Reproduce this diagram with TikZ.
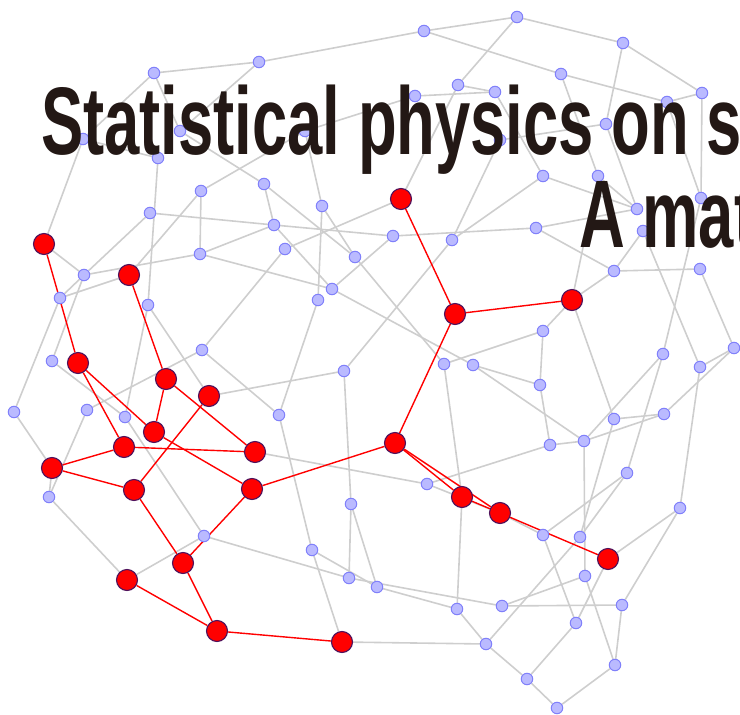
\documentclass[tikz,border=0pt]{standalone}
\usepackage{fontspec}
\usepackage{graphicx}
\newfontfamily\titlefont{Liberation Sans}
\usetikzlibrary{backgrounds}
\definecolor{edgegray}{RGB}{206,206,206}
\definecolor{vtxfill}{RGB}{186,186,255}
\definecolor{vtxline}{RGB}{128,128,250}
\definecolor{hubline}{RGB}{78,18,92}
\definecolor{titleink}{RGB}{35,24,21}
\begin{document}
\begin{tikzpicture}[x=1pt,y=-1pt,
  vtx/.style={circle,draw=vtxline,fill=vtxfill,line width=1pt,minimum size=11.5pt,inner sep=0pt},
  hub/.style={circle,draw=hubline,fill=red,line width=1.1pt,minimum size=21pt,inner sep=0pt},
  link/.style={draw=edgegray,line width=1.6pt},
  redlink/.style={draw=red,line width=1.4pt},
  headline/.style={inner sep=0pt,anchor=base west,text=titleink,
    font=\titlefont\bfseries\fontsize{96pt}{96pt}\selectfont}]
  \useasboundingbox (0,0) rectangle (740,715);
  % small vertices
  \foreach \n/\x/\y in {g1/154/73, g2/259/62, g3/424/31, g4/517/17, g5/623/43,
      g6/561/74, g7/458/85, g8/495/92, g9/415/96, g10/667/102, g11/702/93,
      g12/606/124, g13/500/140, g14/83/139, g15/180/131, g16/158/158,
      g17/305/131, g18/543/176, g19/598/176, g20/701/198, g21/201/191,
      g22/264/184, g23/322/206, g24/150/213, g25/274/225, g26/393/236,
      g27/452/240, g28/536/228, g29/637/209, g30/643/231, g31/200/254,
      g32/84/275, g33/285/249, g34/355/257, g35/614/271, g36/700/269,
      g37/60/298, g38/148/305, g39/332/289, g40/318/300, g41/543/331,
      g42/202/350, g43/52/361, g44/444/364, g45/473/365, g46/344/371,
      g47/540/385, g48/663/354, g49/734/348, g50/700/367, g51/14/412,
      g52/87/410, g53/125/417, g54/279/415, g55/614/419, g56/664/414,
      g57/550/445, g58/584/441, g59/627/473, g60/427/484, g61/49/497,
      g62/351/504, g63/680/508, g64/204/536, g65/543/535, g66/580/537,
      g67/312/550, g68/585/576, g69/349/578, g70/377/587, g71/502/606,
      g72/457/609, g73/622/605, g74/576/623, g75/486/644, g76/615/665,
      g77/527/679, g78/557/708}
    \node[vtx] (\n) at (\x,\y) {};
  % red vertices
  \foreach \n/\x/\y in {r1/44/244, r2/129/275, r3/78/363, r4/166/379,
      r5/209/396, r6/154/432, r7/124/447, r8/255/452, r9/52/468,
      r10/134/490, r11/252/489, r12/183/563, r13/127/580, r14/217/631,
      r15/342/642, r16/401/199, r17/455/314, r18/572/300, r19/395/443,
      r20/462/497, r21/500/513, r22/608/559}
    \node[hub] (\n) at (\x,\y) {};
  \begin{scope}[on background layer]
    \foreach \a/\b in {g1/g2, g1/g14, g1/g15, g14/g16, g14/r1, g16/g38,
        g15/g2, g15/g22, g24/g25, g24/g32, g21/g31, g21/g17, g21/r2,
        g2/g3, g3/g4, g3/g6, g7/g4, g7/g8, g9/g8, g7/r16, g9/g17, g17/g23,
        g22/g25, g22/g34, g23/g40, g23/g34, g25/g26, g25/g31, g25/g39,
        g33/r16, g33/g42, g31/g32, g31/g39, g39/g26, g39/g45, g40/g54,
        g34/g44, g26/g28, g27/g13, g27/g18, g27/g46, g4/g5, g5/g11, g5/g12,
        g6/g10, g6/g19, g10/g11, g10/g20, g11/g20, g12/g29, g12/g13,
        g8/g18, g18/g29, g28/g29, g28/g35, g19/g29, g19/r18, g30/g50,
        g30/g35, g20/g48, g35/g36, g35/r18, g36/g49, r18/g41, r18/g55,
        g41/g47, g44/g41, g45/g47, g45/g58, g47/g57, g57/g60, g57/g58,
        g58/g56, g55/g56, g55/g66, g58/g48, g58/g68, g48/g59, g49/g50,
        g49/g56, g50/g63, r1/g32, g32/g37, g37/r2, g37/g51, g32/g43,
        g38/g53, g38/r5, g42/g52, g42/g54, r5/g46, g43/g53, g51/r9,
        g52/g61, g53/g64, g61/r9, g61/r13, g64/r13, g64/g69, g46/g62,
        g54/g67, g62/g69, g62/g70, g67/r15, g67/g70, g69/g71, g70/g72,
        g72/g75, g72/r20, g44/r20, r15/g75, g60/r8, g60/r21, g59/g65,
        g59/g66, g63/r22, g63/g73, g65/g74, g66/g75, g68/g71, g68/g76,
        r21/g65, r22/g74, g71/g73, g73/g76, g76/g78, g74/g77, g75/g77,
        g77/g78}
      \draw[link] (\a) -- (\b);
    \foreach \a/\b in {r1/r3, r2/r4, r3/r6, r3/r7, r4/r6, r4/r8, r5/r10,
        r7/r8, r7/r9, r6/r11, r9/r10, r10/r12, r11/r12, r12/r14, r13/r14,
        r14/r15, r11/r19, r19/r17, r17/r16, r17/r18, r19/r20, r19/r21,
        r20/r21, r21/r22}
      \draw[redlink] (\a) -- (\b);
  \end{scope}
  % heading over the graph
  \node[headline] (heading) at (41,154) {\scalebox{0.66}[1]{Statistical physics on s}};
  \node[headline] (subheading) at (579,247) {\scalebox{0.66}[1]{A mat}};
\end{tikzpicture}
\end{document}
